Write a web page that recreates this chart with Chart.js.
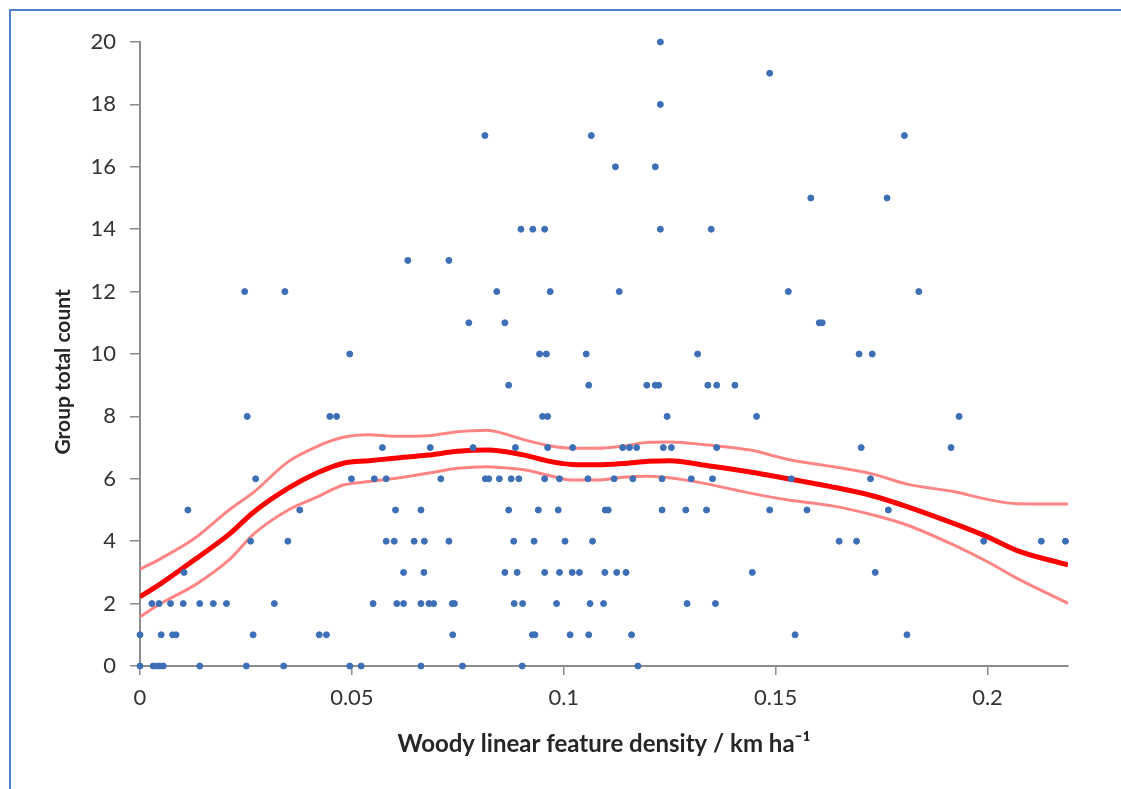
<!DOCTYPE html>
<html>
<head>
<meta charset="utf-8">
<script src="https://cdn.jsdelivr.net/npm/chart.js@4.4.1/dist/chart.umd.min.js"></script>
<style>
  body { margin: 0; background: #fff; overflow: hidden; }
  #frame {
    position: absolute; left: 9px; top: 9px; width: 1400px; height: 1000px;
    border-top: 2px solid #4f80cc; border-left: 2px solid #4f80cc;
  }
  #wrap { position: absolute; left: 0; top: 0; width: 1121px; height: 789px; }
</style>
</head>
<body>
<div id="frame"></div>
<div id="wrap"><canvas id="chart" width="1121" height="789"></canvas></div>
<script>
// observed points: woody linear feature density (km/ha) vs group total count
var pointX = [
  0.1228,
  0.1486,
  0.1228,
  0.0814, 0.1065, 0.1804,
  0.1122, 0.1216,
  0.1583, 0.1763,
  0.0899, 0.0927, 0.0955, 0.1228, 0.1348,
  0.0632, 0.0729,
  0.0247, 0.0342, 0.0842, 0.0968, 0.1131, 0.1530, 0.1838,
  0.0776, 0.0861, 0.1603, 0.1610,
  0.0495, 0.0943, 0.0959, 0.1053, 0.1316, 0.1697, 0.1728,
  0.0870, 0.1059, 0.1196, 0.1216, 0.1224, 0.1340, 0.1361, 0.1404,
  0.0253, 0.0448, 0.0464, 0.0950, 0.0962, 0.1244, 0.1455, 0.1933,
  0.0572, 0.0685, 0.0786, 0.0886, 0.0962, 0.1021, 0.1139, 0.1155, 0.1172, 0.1235, 0.1254, 0.1361, 0.1702, 0.1914,
  0.0273, 0.0499, 0.0553, 0.0581, 0.0710, 0.0815, 0.0823, 0.0848, 0.0876, 0.0894, 0.0955, 0.0990, 0.1057, 0.1119, 0.1163, 0.1232, 0.1301, 0.1351, 0.1537, 0.1724,
  0.0113, 0.0377, 0.0603, 0.0663, 0.0870, 0.0940, 0.0987, 0.1098, 0.1105, 0.1232, 0.1288, 0.1337, 0.1486, 0.1574, 0.1766,
  0.0261, 0.0349, 0.0581, 0.0600, 0.0647, 0.0671, 0.0729, 0.0882, 0.0930, 0.1003, 0.1068, 0.1650, 0.1691, 0.1991, 0.2127, 0.2184,
  0.0104, 0.0622, 0.0670, 0.0861, 0.0890, 0.0955, 0.0990, 0.1020, 0.1037, 0.1097, 0.1125, 0.1147, 0.1445, 0.1735,
  0.0028, 0.0045, 0.0072, 0.0102, 0.0141, 0.0173, 0.0204, 0.0317, 0.0550, 0.0606, 0.0622, 0.0663, 0.0682, 0.0693, 0.0737, 0.0742, 0.0883, 0.0903, 0.0983, 0.1062, 0.1094, 0.1291, 0.1358,
  0.0000, 0.0050, 0.0077, 0.0085, 0.0267, 0.0423, 0.0440, 0.0738, 0.0926, 0.0932, 0.1015, 0.1059, 0.1160, 0.1546, 0.1810,
  0.0000, 0.0031, 0.0040, 0.0047, 0.0055, 0.0141, 0.0251, 0.0339, 0.0495, 0.0522, 0.0663, 0.0761, 0.0902, 0.1175
];
var pointY = [
  20,
  19,
  18,
  17, 17, 17,
  16, 16,
  15, 15,
  14, 14, 14, 14, 14,
  13, 13,
  12, 12, 12, 12, 12, 12, 12,
  11, 11, 11, 11,
  10, 10, 10, 10, 10, 10, 10,
  9, 9, 9, 9, 9, 9, 9, 9,
  8, 8, 8, 8, 8, 8, 8, 8,
  7, 7, 7, 7, 7, 7, 7, 7, 7, 7, 7, 7, 7, 7,
  6, 6, 6, 6, 6, 6, 6, 6, 6, 6, 6, 6, 6, 6, 6, 6, 6, 6, 6, 6,
  5, 5, 5, 5, 5, 5, 5, 5, 5, 5, 5, 5, 5, 5, 5,
  4, 4, 4, 4, 4, 4, 4, 4, 4, 4, 4, 4, 4, 4, 4, 4,
  3, 3, 3, 3, 3, 3, 3, 3, 3, 3, 3, 3, 3, 3,
  2, 2, 2, 2, 2, 2, 2, 2, 2, 2, 2, 2, 2, 2, 2, 2, 2, 2, 2, 2, 2, 2, 2,
  1, 1, 1, 1, 1, 1, 1, 1, 1, 1, 1, 1, 1, 1, 1,
  0, 0, 0, 0, 0, 0, 0, 0, 0, 0, 0, 0, 0, 0
];

// fitted curve and its confidence band
var fitX     = [0, 0.005, 0.013, 0.021, 0.027, 0.035, 0.042, 0.048, 0.054, 0.06, 0.068, 0.075, 0.082, 0.085, 0.091, 0.097, 0.102, 0.108, 0.114, 0.12, 0.125, 0.134, 0.144, 0.153, 0.163, 0.173, 0.181, 0.192, 0.2, 0.207, 0.219];
var fitMean  = [2.22, 2.65, 3.42, 4.22, 4.95, 5.70, 6.20, 6.50, 6.58, 6.66, 6.76, 6.88, 6.92, 6.89, 6.75, 6.55, 6.46, 6.45, 6.49, 6.56, 6.58, 6.42, 6.22, 6.00, 5.75, 5.45, 5.11, 4.57, 4.14, 3.70, 3.24];
var fitUpper = [3.10, 3.45, 4.10, 5.00, 5.59, 6.55, 7.05, 7.33, 7.41, 7.36, 7.38, 7.51, 7.56, 7.48, 7.24, 7.05, 6.98, 6.98, 7.05, 7.17, 7.18, 7.08, 6.92, 6.62, 6.40, 6.15, 5.83, 5.59, 5.34, 5.20, 5.19];
var fitLower = [1.58, 2.01, 2.60, 3.40, 4.25, 5.00, 5.43, 5.80, 5.91, 6.01, 6.18, 6.34, 6.39, 6.36, 6.28, 6.09, 5.96, 5.96, 6.05, 6.08, 6.03, 5.83, 5.54, 5.32, 5.14, 4.84, 4.52, 3.88, 3.34, 2.81, 2.01];

var xTicks = [0, 0.05, 0.1, 0.15, 0.2];
var yTicks = [0, 2, 4, 6, 8, 10, 12, 14, 16, 18, 20];

function pairs(xs, ys) {
  return xs.map(function (x, i) { return { x: x, y: ys[i] }; });
}

function curve(label, ys, color, width) {
  return {
    label: label,
    data: pairs(fitX, ys),
    showLine: true,
    borderColor: color,
    borderWidth: width,
    pointRadius: 0,
    cubicInterpolationMode: 'monotone',
    fill: false
  };
}

var tickFont = { family: 'Lato', size: 22 };

new Chart(document.getElementById('chart').getContext('2d'), {
  type: 'scatter',
  data: {
    datasets: [
      {
        label: 'Group total count',
        data: pairs(pointX, pointY),
        backgroundColor: '#3d6fb6',
        borderColor: '#3d6fb6',
        borderWidth: 1,
        pointRadius: 3,
        clip: false
      },
      curve('Fit', fitMean, '#ff0000', 5),
      curve('Upper 95%', fitUpper, '#ff8585', 3),
      curve('Lower 95%', fitLower, '#ff8585', 3)
    ]
  },
  options: {
    responsive: false,
    animation: false,
    layout: { padding: { left: 51, top: 42, right: 53, bottom: 30 } },
    plugins: { legend: { display: false }, tooltip: { enabled: false } },
    scales: {
      x: {
        type: 'linear',
        min: 0,
        max: 0.219,
        afterBuildTicks: function (scale) {
          scale.ticks = xTicks.map(function (v) { return { value: v }; });
        },
        afterFit: function (scale) { scale.height = 93; },
        ticks: {
          font: tickFont,
          color: '#333',
          padding: 10,
          callback: function (v) { return String(+v.toFixed(2)); }
        },
        grid: { drawOnChartArea: false, drawTicks: true, tickLength: 9, color: '#8c8c8c', lineWidth: 1.5 },
        border: { color: '#8c8c8c', width: 2 },
        title: {
          display: true,
          text: 'Woody linear feature density / km ha⁻¹',
          font: { family: 'Lato', size: 24, weight: 'bold' },
          color: '#262626',
          padding: 0
        }
      },
      y: {
        min: 0,
        max: 20,
        afterBuildTicks: function (scale) {
          scale.ticks = yTicks.map(function (v) { return { value: v }; });
        },
        afterFit: function (scale) { scale.width = 89; },
        ticks: { font: tickFont, color: '#333', padding: 14 },
        grid: { drawOnChartArea: false, drawTicks: true, tickLength: 10, color: '#8c8c8c', lineWidth: 1.5 },
        border: { color: '#8c8c8c', width: 2 },
        title: {
          display: true,
          // trailing spaces nudge the title down a little, as in the original
          text: 'Group total count\u00a0\u00a0\u00a0\u00a0\u00a0\u00a0\u00a0',
          font: { family: 'Lato', size: 21, weight: 'bold' },
          color: '#262626',
          padding: 0
        }
      }
    }
  }
});
</script>
</body>
</html>
